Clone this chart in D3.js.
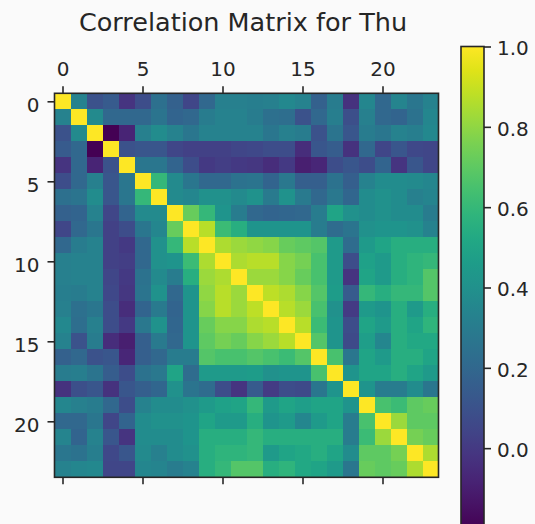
<!DOCTYPE html>
<html>
<head>
<meta charset="utf-8">
<script src="https://cdn.jsdelivr.net/npm/d3@7"></script>
<style>
    body { margin: 0; background: #fafafa; }
    svg text { font-family: 'DejaVu Sans', sans-serif; fill: #262626; }
</style>
</head>
<body>
<script>
// variable indices (rows / columns of the matrix)
const variables = [0, 1, 2, 3, 4, 5, 6, 7, 8, 9, 10, 11, 12, 13, 14, 15, 16, 17, 18, 19, 20, 21, 22, 23]
const axisTicks = [0, 5, 10, 15, 20]
const colorbarTicks = [0.0, 0.2, 0.4, 0.6, 0.8, 1.0]
const title = 'Correlation Matrix for Thu'

// upper triangle, row i holds correlations with columns i+1 .. 23
const upperRows = [
    [0.33, 0.10, 0.14, -0.02, 0.08, 0.24, 0.17, 0.05, 0.20, 0.32, 0.32, 0.31, 0.32, 0.36, 0.33, 0.17, 0.30, -0.03, 0.35, 0.20, 0.34, 0.27, 0.33],
    [0.37, 0.20, 0.20, 0.20, 0.26, 0.18, 0.20, 0.30, 0.33, 0.33, 0.30, 0.24, 0.23, 0.10, 0.20, 0.31, 0.09, 0.32, 0.20, 0.18, 0.25, 0.35],
    [-0.20, -0.08, 0.32, 0.38, 0.33, 0.27, 0.33, 0.33, 0.33, 0.33, 0.27, 0.32, 0.30, 0.10, 0.26, 0.12, 0.30, 0.27, 0.33, 0.31, 0.36],
    [0.10, 0.12, 0.12, 0.05, 0.03, 0.03, 0.03, 0.05, 0.06, 0.08, 0.08, -0.05, 0.12, 0.15, -0.03, 0.20, 0.05, 0.12, 0.06, 0.05],
    [0.27, 0.27, 0.18, 0.08, 0.00, 0.02, 0.00, -0.01, -0.05, 0.00, -0.10, -0.07, 0.08, 0.12, 0.08, 0.18, -0.02, 0.12, 0.05],
    [0.60, 0.37, 0.27, 0.20, 0.20, 0.25, 0.26, 0.18, 0.28, 0.16, 0.16, 0.25, 0.16, 0.33, 0.38, 0.38, 0.37, 0.35],
    [0.37, 0.35, 0.40, 0.40, 0.37, 0.41, 0.29, 0.41, 0.29, 0.20, 0.28, 0.19, 0.38, 0.40, 0.38, 0.32, 0.34],
    [0.72, 0.60, 0.42, 0.30, 0.20, 0.18, 0.19, 0.20, 0.30, 0.50, 0.40, 0.38, 0.40, 0.38, 0.38, 0.30],
    [0.87, 0.62, 0.55, 0.42, 0.42, 0.42, 0.42, 0.30, 0.22, 0.26, 0.40, 0.42, 0.42, 0.40, 0.33],
    [0.85, 0.82, 0.80, 0.78, 0.72, 0.70, 0.68, 0.45, 0.22, 0.45, 0.50, 0.55, 0.55, 0.55],
    [0.85, 0.87, 0.87, 0.78, 0.75, 0.65, 0.45, 0.08, 0.48, 0.45, 0.55, 0.58, 0.60],
    [0.82, 0.82, 0.78, 0.72, 0.65, 0.45, -0.02, 0.50, 0.45, 0.55, 0.58, 0.68],
    [0.88, 0.85, 0.78, 0.68, 0.46, 0.14, 0.60, 0.55, 0.60, 0.60, 0.68],
    [0.87, 0.82, 0.65, 0.40, 0.01, 0.45, 0.42, 0.55, 0.45, 0.55],
    [0.87, 0.62, 0.42, 0.08, 0.50, 0.45, 0.55, 0.50, 0.58],
    [0.68, 0.42, 0.07, 0.47, 0.35, 0.55, 0.52, 0.52],
    [0.65, 0.27, 0.50, 0.45, 0.55, 0.55, 0.50],
    [0.42, 0.50, 0.50, 0.55, 0.50, 0.45],
    [0.42, 0.30, 0.30, 0.38, 0.27],
    [0.65, 0.62, 0.70, 0.72],
    [0.82, 0.70, 0.70],
    [0.75, 0.72],
    [0.85]
]

const width = 535
const height = 524

const plotLeft = 54.5
const plotTop = 93.3
const plotSize = 384

const cbLeft = 461
const cbWidth = 23
const cbTop = 46.5
const cbBottom = 528.5

// mirror the triangle into a full matrix of cells
const cells = []
variables.forEach(i => {
    variables.forEach(j => {
        let v = 1
        if (j > i) v = upperRows[i][j - i - 1]
        if (j < i) v = upperRows[j][i - j - 1]
        cells.push({row: i, col: j, value: v})
    })
})

const vmin = d3.min(cells, d => d.value)

const color = d3.scaleSequential(d3.interpolateViridis)
    .domain([vmin, 1])

const x = d3.scaleBand()
    .domain(variables)
    .range([plotLeft, plotLeft + plotSize])

const y = d3.scaleBand()
    .domain(variables)
    .range([plotTop, plotTop + plotSize])

// linear versions for tick placement at cell centres
const xTicks = d3.scaleLinear()
    .domain([-0.5, variables.length - 0.5])
    .range([plotLeft, plotLeft + plotSize])

const yTicks = d3.scaleLinear()
    .domain([-0.5, variables.length - 0.5])
    .range([plotTop, plotTop + plotSize])

const svg = d3.select('body')
    .append('svg')
    .attr('width', width)
    .attr('height', height)

svg.append('text')
    .attr('x', 243)
    .attr('y', 31)
    .attr('text-anchor', 'middle')
    .style('font-size', '25.5px')
    .text(title)

svg.append('g')
    .selectAll('rect')
    .data(cells)
    .enter()
    .append('rect')
    .attr('x', d => x(d.col))
    .attr('y', d => y(d.row))
    .attr('width', x.bandwidth() + 0.5)
    .attr('height', y.bandwidth() + 0.5)
    .attr('fill', d => color(d.value))
    .attr('shape-rendering', 'crispEdges')

svg.append('rect')
    .attr('x', plotLeft)
    .attr('y', plotTop)
    .attr('width', plotSize)
    .attr('height', plotSize)
    .attr('fill', 'none')
    .attr('stroke', '#262626')
    .attr('stroke-width', 1.6)

function styleAxis (g) {
    g.select('.domain').remove()
    g.selectAll('line').attr('stroke', '#262626').attr('stroke-width', 1.6)
    g.selectAll('text').style('font-size', '20px').attr('fill', '#262626')
}

svg.append('g')
    .attr('transform', `translate(0,${plotTop})`)
    .call(d3.axisTop(xTicks).tickValues(axisTicks).tickSize(7).tickPadding(10))
    .call(styleAxis)

svg.append('g')
    .attr('transform', `translate(0,${plotTop + plotSize})`)
    .call(d3.axisBottom(xTicks).tickValues(axisTicks).tickSize(7).tickFormat(''))
    .call(styleAxis)

svg.append('g')
    .attr('transform', `translate(${plotLeft},0)`)
    .call(d3.axisLeft(yTicks).tickValues(axisTicks).tickSize(7).tickPadding(8))
    .call(styleAxis)
    .selectAll('text')
    .attr('dy', '0.5em')

// colorbar
const cbScale = d3.scaleLinear()
    .domain([vmin, 1])
    .range([cbBottom, cbTop])

const defs = svg.append('defs')
const grad = defs.append('linearGradient')
    .attr('id', 'cbgrad')
    .attr('x1', 0).attr('y1', 1)
    .attr('x2', 0).attr('y2', 0)

d3.range(0, 1.0001, 0.05).forEach(t => {
    grad.append('stop')
        .attr('offset', t)
        .attr('stop-color', color(vmin + t * (1 - vmin)))
})

svg.append('rect')
    .attr('x', cbLeft)
    .attr('y', cbTop)
    .attr('width', cbWidth)
    .attr('height', cbBottom - cbTop)
    .attr('fill', 'url(#cbgrad)')
    .attr('stroke', '#262626')
    .attr('stroke-width', 1.6)

svg.append('g')
    .attr('transform', `translate(${cbLeft + cbWidth},0)`)
    .call(d3.axisRight(cbScale).tickValues(colorbarTicks).tickSize(7).tickPadding(6).tickFormat(d3.format('.1f')))
    .call(styleAxis)
    .selectAll('text')
    .attr('dy', '0.42em')
</script>
</body>
</html>
